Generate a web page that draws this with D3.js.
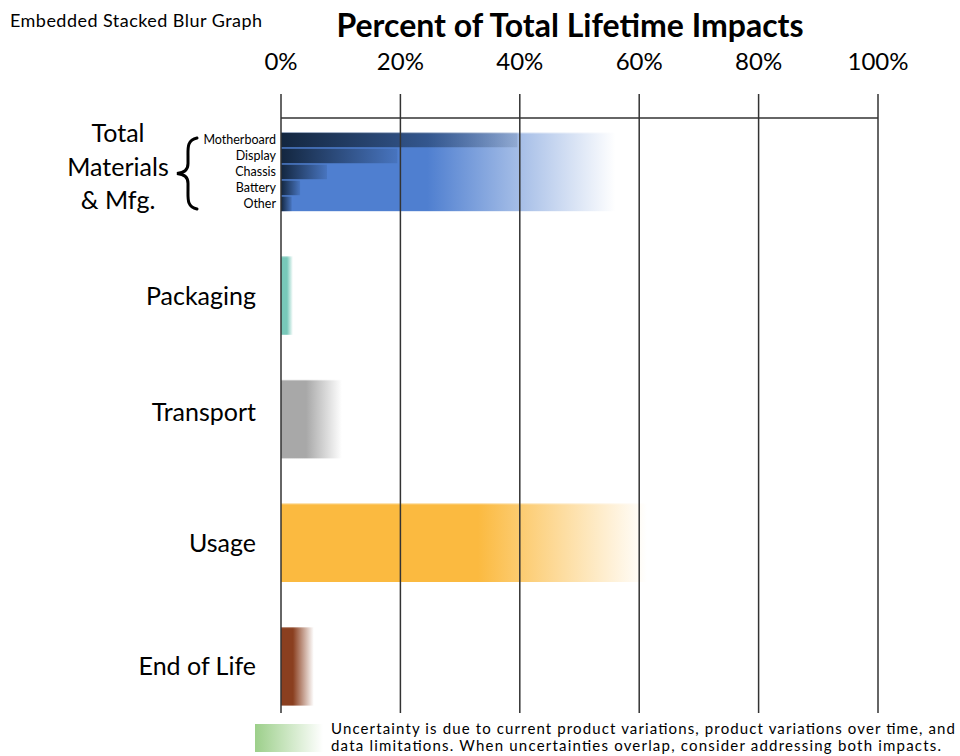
<!DOCTYPE html>
<html>
<head>
<meta charset="utf-8">
<script src="https://cdn.jsdelivr.net/npm/d3@7/dist/d3.min.js"></script>
<style>
  html, body { margin: 0; padding: 0; background: #fff; }
  svg { display: block; }
</style>
</head>
<body>
<svg id="chart" width="960" height="756"></svg>
<script>
// Life-cycle stages and their impact ranges (percent of total lifetime impacts).
// solidValues: the certain part of each bar; blurValues: upper end of the uncertainty fade.
const categories = ["Total Materials & Mfg.", "Packaging", "Transport", "Usage", "End of Life"];
const solidValues = [24.5, 1, 4.2, 33, 2];
const blurValues  = [56, 2, 10.2, 61.3, 5.5];
const barColors   = ["#4f7fd0", "#78c8b9", "#a8a8a8", "#fbba40", "#8a3f1f"];

// Components stacked inside the materials bar
const components = ["Motherboard", "Display", "Chassis", "Battery", "Other"];
const componentValues = [39.6, 19.5, 7.7, 3.2, 1.8];
const componentColor = "#13263f";

const tickValues = [0, 20, 40, 60, 80, 100];
const tickLabels = ["0%", "20%", "40%", "60%", "80%", "100%"];

const svg = d3.select("#chart");
const defs = svg.append("defs");
const labelFont = "Lato, 'Open Sans', sans-serif";

const x = d3.scaleLinear().domain([0, 100]).range([281, 878]);
const y = d3.scaleBand().domain(categories).range([132.7, 705.6]).paddingInner(0.365).paddingOuter(0);

// Headings
svg.append("text").attr("x", 10).attr("y", 27)
  .attr("font-family", labelFont).attr("font-size", 18).attr("fill", "#000")
  .attr("textLength", 252).attr("lengthAdjust", "spacing")
  .text("Embedded Stacked Blur Graph");
svg.append("text").attr("x", 570).attr("y", 37).attr("text-anchor", "middle")
  .attr("font-family", labelFont).attr("font-weight", "bold").attr("font-size", 32).attr("fill", "#000")
  .text("Percent of Total Lifetime Impacts");

// Fading gradient from solid colour to transparent over the uncertain range
function blurGradient(id, color, solid, blur, endOpacity) {
  const g = defs.append("linearGradient").attr("id", id)
    .attr("gradientUnits", "userSpaceOnUse")
    .attr("x1", x(0)).attr("x2", x(blur)).attr("y1", 0).attr("y2", 0);
  g.append("stop").attr("offset", 0).attr("stop-color", color).attr("stop-opacity", 1);
  g.append("stop").attr("offset", solid / blur).attr("stop-color", color).attr("stop-opacity", 1);
  g.append("stop").attr("offset", 1).attr("stop-color", color).attr("stop-opacity", endOpacity);
  return `url(#${id})`;
}

// Stage bars
const bars = svg.append("g");
categories.forEach((c, i) => {
  bars.append("rect")
    .attr("x", x(0)).attr("y", y(c))
    .attr("width", x(blurValues[i]) - x(0)).attr("height", y.bandwidth())
    .attr("fill", blurGradient("g" + i, barColors[i], solidValues[i], blurValues[i], 0));
  // thin pale edge along the top of each bar
  bars.append("rect")
    .attr("x", x(0)).attr("y", y(c))
    .attr("width", x(blurValues[i]) - x(0)).attr("height", 1)
    .attr("fill", "#fff").attr("opacity", 0.35);
});

// Component rows inside the materials bar
const mat = categories[0];
const sub = d3.scaleBand().domain(components).range([y(mat), y(mat) + y.bandwidth()]).paddingInner(0.09);
components.forEach((c, i) => {
  bars.append("rect")
    .attr("x", x(0)).attr("y", sub(c))
    .attr("width", x(componentValues[i]) - x(0)).attr("height", sub.bandwidth())
    .attr("fill", blurGradient("c" + i, componentColor, 0, componentValues[i], 0.12));
  svg.append("text")
    .attr("x", 276).attr("y", sub(c) + sub.bandwidth() / 2 + 4.5)
    .attr("text-anchor", "end").attr("font-family", labelFont).attr("font-size", 12.5).attr("fill", "#000")
    .text(c);
});

// Grid lines and top rule, drawn above the bars
const grid = svg.append("g").attr("stroke", "#333").attr("stroke-width", 1.5);
tickValues.forEach(v => {
  grid.append("line").attr("x1", x(v)).attr("x2", x(v)).attr("y1", 94).attr("y2", 713);
});
grid.append("line").attr("x1", x(0)).attr("x2", x(100)).attr("y1", 118).attr("y2", 118);

// Percent tick labels along the top
svg.append("g").selectAll("text").data(tickValues).join("text")
  .attr("x", d => x(d)).attr("y", 70).attr("text-anchor", "middle")
  .attr("font-family", labelFont).attr("font-size", 24).attr("fill", "#000")
  .text((d, i) => tickLabels[i]);

// Stage labels (the Transport label sits a little higher than its bar centre)
categories.slice(1).forEach(c => {
  const nudge = c === "Transport" ? -7 : 0;
  svg.append("text")
    .attr("x", 256).attr("y", y(c) + y.bandwidth() / 2 + 9 + nudge)
    .attr("text-anchor", "end").attr("font-family", labelFont).attr("font-size", 25).attr("fill", "#000")
    .text(c);
});
const matLines = ["Total", "Materials", "& Mfg."];
matLines.forEach((t, i) => {
  svg.append("text")
    .attr("x", 118).attr("y", 142 + i * 33.5)
    .attr("text-anchor", "middle").attr("font-family", labelFont).attr("font-size", 25).attr("fill", "#000")
    .text(t);
});

// Curly brace grouping the components
const bx = 186, bt = 138, bb = 209, bm = (bt + bb) / 2;
svg.append("path")
  .attr("d", `M ${bx + 11} ${bt} C ${bx + 1} ${bt + 2}, ${bx + 2} ${bt + 10}, ${bx + 2} ${bt + 18}
              L ${bx + 2} ${bm - 10} C ${bx + 2} ${bm - 3}, ${bx - 2} ${bm - 1}, ${bx - 9} ${bm}
              C ${bx - 2} ${bm + 1}, ${bx + 2} ${bm + 3}, ${bx + 2} ${bm + 10}
              L ${bx + 2} ${bb - 18} C ${bx + 2} ${bb - 10}, ${bx + 1} ${bb - 2}, ${bx + 11} ${bb}`)
  .attr("fill", "none").attr("stroke", "#000").attr("stroke-width", 3).attr("stroke-linecap", "round");

// Legend: uncertainty swatch and note
const lg = defs.append("linearGradient").attr("id", "legendGrad");
lg.append("stop").attr("offset", 0).attr("stop-color", "#9ccf8a").attr("stop-opacity", 1);
lg.append("stop").attr("offset", 1).attr("stop-color", "#9ccf8a").attr("stop-opacity", 0);
svg.append("rect").attr("x", 255).attr("y", 724).attr("width", 68).attr("height", 28).attr("fill", "url(#legendGrad)");
const note = svg.append("g").attr("font-family", labelFont).attr("font-size", 15).attr("fill", "#000");
note.append("text").attr("x", 331).attr("y", 734)
  .attr("textLength", 624).attr("lengthAdjust", "spacing")
  .text("Uncertainty is due to current product variations, product variations over time, and");
note.append("text").attr("x", 331).attr("y", 751)
  .attr("textLength", 610).attr("lengthAdjust", "spacing")
  .text("data limitations. When uncertainties overlap, consider addressing both impacts.");
</script>
</body>
</html>
